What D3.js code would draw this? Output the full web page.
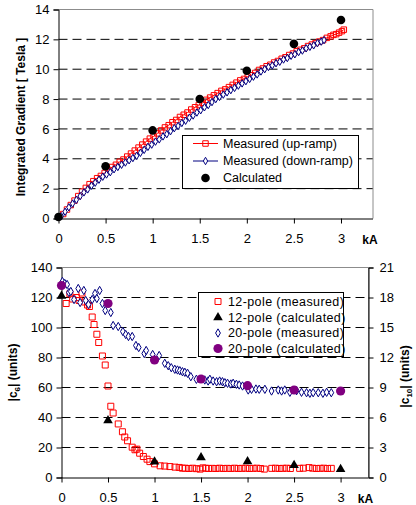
<!DOCTYPE html>
<html>
<head>
<meta charset="utf-8">
<script src="https://cdn.jsdelivr.net/npm/d3@7"></script>
<style>
  body { margin: 0; background: #fff; }
  svg { display: block; font-family: "Liberation Sans", Arial, sans-serif; }
  .tick text { font-size: 13px; fill: #000; }
  .grid line { stroke: #000; stroke-dasharray: 9,5; stroke-width: 1; }
  .legend text { font-size: 12.5px; fill: #000; }
</style>
</head>
<body>
<div id="chart"></div>
<script>
// ---- top chart: integrated gradient vs current ----
const gradXTicks = [0, 0.5, 1, 1.5, 2, 2.5, 3];
const gradYTicks = [0, 2, 4, 6, 8, 10, 12, 14];
const upRampKA = [0.05,0.09,0.13,0.17,0.21,0.25,0.29,0.33,0.37,0.41,0.45,0.49,0.53,0.57,0.61,0.65,0.69,0.73,0.77,0.81,0.85,0.89,0.93,0.97,1.01,1.05,1.09,1.13,1.17,1.21,1.25,1.29,1.33,1.37,1.41,1.45,1.49,1.53,1.57,1.61,1.65,1.69,1.73,1.77,1.81,1.85,1.89,1.93,1.97,2.01,2.05,2.09,2.13,2.17,2.21,2.25,2.29,2.33,2.37,2.41,2.45,2.49,2.53,2.57,2.61,2.65,2.69,2.73,2.77,2.81,2.85,2.89,2.92,2.95,2.98,3.01,3.03];
const upRampT = [0.3,0.6,0.9,1.2,1.5,1.8,2.05,2.3,2.5,2.7,2.85,3.05,3.25,3.45,3.6,3.8,3.95,4.15,4.35,4.55,4.75,4.95,5.15,5.35,5.5,5.7,5.9,6.1,6.25,6.45,6.6,6.8,6.95,7.1,7.3,7.45,7.6,7.75,7.95,8.1,8.25,8.4,8.55,8.65,8.8,8.95,9.1,9.25,9.35,9.5,9.6,9.75,9.95,10.05,10.2,10.3,10.45,10.55,10.7,10.8,10.95,11.05,11.2,11.3,11.4,11.55,11.65,11.75,11.85,11.95,12.1,12.2,12.3,12.35,12.45,12.55,12.65];
const downRampKA = [0.03,0.07,0.11,0.15,0.19,0.23,0.27,0.31,0.35,0.39,0.43,0.47,0.51,0.55,0.59,0.63,0.67,0.71,0.75,0.79,0.83,0.87,0.91,0.95,0.99,1.03,1.07,1.11,1.15,1.19,1.23,1.27,1.31,1.35,1.39,1.43,1.47,1.51,1.55,1.59,1.63,1.67,1.71,1.75,1.79,1.83,1.87,1.91,1.95,1.99,2.03,2.07,2.11,2.15,2.19,2.23,2.27,2.31,2.35,2.39,2.43,2.47,2.51,2.55,2.59,2.63,2.67,2.71,2.75,2.79,2.82];
const downRampT = [0.15,0.45,0.75,1.0,1.25,1.5,1.75,1.95,2.2,2.4,2.6,2.8,2.95,3.1,3.3,3.45,3.6,3.75,3.9,4.05,4.2,4.4,4.6,4.8,4.95,5.15,5.3,5.5,5.65,5.85,6.05,6.2,6.4,6.55,6.75,6.9,7.1,7.25,7.45,7.6,7.8,8.0,8.15,8.3,8.45,8.6,8.75,8.9,9.05,9.2,9.35,9.5,9.65,9.85,10.0,10.15,10.25,10.4,10.5,10.65,10.75,10.9,11.0,11.15,11.25,11.4,11.5,11.6,11.75,11.85,11.95];
const calcKA = [0, 0.5, 1, 1.5, 2, 2.5, 3];
const calcT = [0.1, 3.5, 5.9, 8.0, 9.9, 11.7, 13.3];

// ---- bottom chart: 12-pole and 20-pole harmonics ----
const harmXTicks = [0, 0.5, 1, 1.5, 2, 2.5, 3];
const c6Ticks = [0, 20, 40, 60, 80, 100, 120, 140];
const c10Ticks = [0, 3, 6, 9, 12, 15, 18, 21];
const pole12KA = [0.05,0.09,0.12,0.16,0.19,0.22,0.25,0.28,0.30,0.33,0.35,0.38,0.40,0.44,0.47,0.50,0.53,0.555,0.61,0.655,0.68,0.71,0.76,0.79,0.81,0.84,0.88,0.92,0.95,1.0,1.06,1.11,1.165,1.22,1.265,1.30,1.33,1.37,1.41,1.45,1.49,1.52,1.55,1.58,1.62,1.66,1.70,1.74,1.78,1.82,1.86,1.90,1.94,1.98,2.02,2.06,2.10,2.14,2.18,2.26,2.30,2.34,2.38,2.42,2.46,2.56,2.60,2.66,2.70,2.74,2.78,2.82,2.86,2.90];
const pole12C6 = [116,122.5,119,120,118,123,117,115,114,107,102,95.5,90,81,75,61,47.5,43,35.7,30.5,27,24.5,20.2,18.5,18.9,16.2,14,12.2,10.6,9.1,7.8,7.6,7.3,6.9,6.7,6.2,6.2,6.0,6.2,5.9,5.6,6.4,6.2,6.0,6.1,6.0,6.2,6.0,6.1,6.0,6.2,6.0,6.1,6.2,6.0,6.1,6.2,6.0,5.6,6.1,6.2,6.0,6.1,6.2,6.0,6.1,6.2,6.6,6.2,6.0,6.1,6.2,6.0,6.1];
const pole12CalcKA = [0, 0.5, 1, 1.5, 2, 2.5, 3];
const pole12CalcC6 = [121, 38, 10.5, 13.3, 10.7, 8.2, 5.5];
const pole20KA = [0.01,0.035,0.06,0.08,0.10,0.135,0.18,0.20,0.24,0.26,0.29,0.33,0.36,0.38,0.41,0.44,0.47,0.53,0.555,0.61,0.66,0.69,0.72,0.76,0.80,0.83,0.89,0.91,0.98,1.05,1.11,1.147,1.18,1.218,1.247,1.272,1.30,1.326,1.355,1.39,1.45,1.54,1.576,1.595,1.63,1.667,1.70,1.73,1.756,1.785,1.82,1.845,1.88,1.91,1.946,2.007,2.043,2.09,2.125,2.186,2.258,2.33,2.366,2.40,2.455,2.527,2.58,2.634,2.67,2.705,2.76,2.81,2.85,2.90];
const pole20C10 = [19.6,19.4,19.3,18.5,18.6,17.8,18.9,17.5,18.7,17.7,17.3,17.8,18.4,17.9,18.7,17.4,16.7,16.5,15.2,15.1,14.6,14.3,14.1,14.1,13.2,13.0,12.4,12.7,12.3,12.2,11.42,11.18,10.98,10.82,10.75,10.68,10.58,10.52,10.42,10.08,9.82,9.75,9.65,9.82,9.65,9.58,9.65,9.58,9.48,9.42,9.35,9.42,9.32,9.25,9.15,8.75,8.82,8.85,8.82,8.82,8.65,8.75,8.65,8.75,8.52,8.68,8.52,8.48,8.42,8.48,8.48,8.42,8.52,8.48];
const pole20CalcKA = [0, 0.5, 1, 1.5, 2, 2.5, 3];
const pole20CalcC10 = [19.2, 17.4, 11.75, 9.85, 9.18, 8.75, 8.65];

const red = "#ff0000", navy = "#000080", purple = "#800080";

const svg = d3.select("#chart").append("svg").attr("width", 416).attr("height", 505);

// marker helpers
const square = d3.symbol().type(d3.symbolSquare);
const diamond = d3.symbol().type(d3.symbolDiamond);
const triangle = d3.symbol().type(d3.symbolTriangle);

const drawFrame = (g, x, y, box, xTicks, yTicks, yFmt) => {
  // dashed grid
  g.append("g")
    .attr("class", "grid")
    .selectAll("line")
    .data(yTicks.slice(1, -1))
    .join("line")
    .attr("x1", box.left)
    .attr("x2", box.right)
    .attr("y1", d => y(d))
    .attr("y2", d => y(d));
  // grey plot border (top, right)
  g.append("path")
    .attr("d", `M${box.left},${box.top}H${box.right}V${box.bottom}`)
    .attr("fill", "none")
    .attr("stroke", "#8c8c8c");

  const xAxis = g.append("g")
    .attr("transform", `translate(0,${box.bottom})`)
    .call(d3.axisBottom(x).tickValues(xTicks).tickSize(5).tickPadding(8).tickFormat(d3.format("")));
  xAxis.select(".domain").attr("d", `M${box.left},0.5H${box.right}`);
  const yAxis = g.append("g")
    .attr("transform", `translate(${box.left},0)`)
    .call(d3.axisLeft(y).tickValues(yTicks).tickSize(5).tickPadding(4).tickFormat(yFmt));
  [xAxis, yAxis].forEach(a => a.selectAll("path, line").attr("stroke", "#000"));
  xAxis.selectAll("text").attr("dy", "0.85em");
  g.append("text")
    .attr("x", box.right - 3)
    .attr("y", box.bottom + 25)
    .attr("text-anchor", "middle")
    .attr("font-weight", "bold")
    .attr("font-size", 12)
    .text("kA");
};

// ================= top chart =================
const topBox = { left: 58.5, right: 373, top: 9.5, bottom: 218.5 };
const gx = d3.scaleLinear().domain([0, 3.34]).range([topBox.left, topBox.right]);
const gy = d3.scaleLinear().domain([0, 14]).range([topBox.bottom, topBox.top]);
const topG = svg.append("g");
drawFrame(topG, gx, gy, topBox, gradXTicks, gradYTicks, d3.format(""));

topG.append("text")
  .attr("transform", `translate(25,${(topBox.top + topBox.bottom) / 2 + 3}) rotate(-90)`)
  .attr("text-anchor", "middle")
  .attr("font-weight", "bold")
  .attr("font-size", 12)
  .text("Integrated Gradient [ Tesla ]");

const upRamp = upRampKA.map((k, i) => [k, upRampT[i]]);
const downRamp = downRampKA.map((k, i) => [k, downRampT[i]]);
const gLine = d3.line().x(d => gx(d[0])).y(d => gy(d[1]));

topG.append("path").datum(upRamp).attr("d", gLine).attr("fill", "none").attr("stroke", red).attr("stroke-width", 1);
topG.append("path").datum(downRamp).attr("d", gLine).attr("fill", "none").attr("stroke", navy).attr("stroke-width", 1);

topG.append("g").selectAll("path")
  .data(upRamp)
  .join("path")
  .attr("transform", d => `translate(${gx(d[0])},${gy(d[1])})`)
  .attr("d", square.size(30))
  .attr("fill", "none")
  .attr("stroke", red)
  .attr("stroke-width", 1);
topG.append("g").selectAll("path")
  .data(downRamp)
  .join("path")
  .attr("transform", d => `translate(${gx(d[0])},${gy(d[1])})`)
  .attr("d", diamond.size(16))
  .attr("fill", "#fff")
  .attr("stroke", navy)
  .attr("stroke-width", 1);
topG.append("g").selectAll("circle")
  .data(calcKA.map((k, i) => [k, calcT[i]]))
  .join("circle")
  .attr("cx", d => gx(d[0]))
  .attr("cy", d => gy(d[1]))
  .attr("r", 4.3)
  .attr("fill", "#000");

// top legend
const tl = topG.append("g").attr("class", "legend");
tl.append("rect").attr("x", 182.5).attr("y", 135.5).attr("width", 176).attr("height", 53)
  .attr("fill", "#fff").attr("stroke", "#000");
const topLegend = [
  { label: "Measured (up-ramp)", y: 143.5, kind: "up" },
  { label: "Measured (down-ramp)", y: 161, kind: "down" },
  { label: "Calculated", y: 178, kind: "calc" }
];
topLegend.forEach(it => {
  if (it.kind === "up" || it.kind === "down") {
    const c = it.kind === "up" ? red : navy;
    tl.append("line").attr("x1", 193).attr("x2", 218).attr("y1", it.y).attr("y2", it.y).attr("stroke", c);
    tl.append("path")
      .attr("transform", `translate(205.5,${it.y})`)
      .attr("d", it.kind === "up" ? square.size(30)() : diamond.size(16)())
      .attr("fill", it.kind === "up" ? "none" : "#fff")
      .attr("stroke", c);
  } else {
    tl.append("circle").attr("cx", 205.5).attr("cy", it.y).attr("r", 4.3).attr("fill", "#000");
  }
  tl.append("text").attr("x", 223).attr("y", it.y).attr("dy", "0.35em").text(it.label);
});

// ================= bottom chart =================
const botBox = { left: 61.5, right: 368.5, top: 267.5, bottom: 477.5 };
const hx = d3.scaleLinear().domain([0, 3.3]).range([botBox.left, botBox.right]);
const hy = d3.scaleLinear().domain([0, 140]).range([botBox.bottom, botBox.top]);
const hyR = d3.scaleLinear().domain([0, 21]).range([botBox.bottom, botBox.top]);
const botG = svg.append("g");
drawFrame(botG, hx, hy, botBox, harmXTicks, c6Ticks, d3.format(""));

const rAxis = botG.append("g")
  .attr("transform", `translate(${botBox.right},0)`)
  .call(d3.axisRight(hyR).tickValues(c10Ticks).tickSize(5).tickPadding(6));
rAxis.selectAll("path, line").attr("stroke", "#000");

const leftTitle = botG.append("text")
  .attr("transform", `translate(17,${(botBox.top + botBox.bottom) / 2}) rotate(-90)`)
  .attr("text-anchor", "middle")
  .attr("font-weight", "bold")
  .attr("font-size", 12);
leftTitle.append("tspan").text("|c");
leftTitle.append("tspan").attr("font-size", 8).attr("dy", 3).text("6");
leftTitle.append("tspan").attr("dy", -3).text("| (units)");

const rightTitle = botG.append("text")
  .attr("transform", `translate(409,${(botBox.top + botBox.bottom) / 2 + 4}) rotate(-90)`)
  .attr("text-anchor", "middle")
  .attr("font-weight", "bold")
  .attr("font-size", 12);
rightTitle.append("tspan").text("|c");
rightTitle.append("tspan").attr("font-size", 8).attr("dy", 3).text("10");
rightTitle.append("tspan").attr("dy", -3).text("| (units)");

botG.append("g").selectAll("path")
  .data(pole12KA.map((k, i) => [k, pole12C6[i]]))
  .join("path")
  .attr("transform", d => `translate(${hx(d[0])},${hy(d[1])})`)
  .attr("d", square.size(36))
  .attr("fill", "none")
  .attr("stroke", red)
  .attr("stroke-width", 1);
botG.append("g").selectAll("path")
  .data(pole20KA.map((k, i) => [k, pole20C10[i]]))
  .join("path")
  .attr("transform", d => `translate(${hx(d[0])},${hyR(d[1])})`)
  .attr("d", diamond.size(20))
  .attr("fill", "#fff")
  .attr("stroke", navy)
  .attr("stroke-width", 1);
botG.append("g").selectAll("path")
  .data(pole12CalcKA.map((k, i) => [k, pole12CalcC6[i]]))
  .join("path")
  .attr("transform", d => `translate(${hx(d[0])},${hy(d[1])})`)
  .attr("d", triangle.size(40))
  .attr("fill", "#000");
botG.append("g").selectAll("circle")
  .data(pole20CalcKA.map((k, i) => [k, pole20CalcC10[i]]))
  .join("circle")
  .attr("cx", d => hx(d[0]))
  .attr("cy", d => hyR(d[1]))
  .attr("r", 4.6)
  .attr("fill", purple);

// bottom legend
const bl = botG.append("g").attr("class", "legend");
bl.append("rect").attr("x", 198.5).attr("y", 292.5).attr("width", 145).attr("height", 64)
  .attr("fill", "#fff").attr("stroke", "#000");
const botLegend = [
  { label: "12-pole (measured)", y: 301.5 },
  { label: "12-pole (calculated)", y: 317.5 },
  { label: "20-pole (measured)", y: 333 },
  { label: "20-pole (calculated)", y: 348.5 }
];
botLegend.forEach((it, i) => {
  const m = bl.append("g").attr("transform", `translate(218,${it.y})`);
  if (i === 0) m.append("path").attr("d", square.size(36)()).attr("fill", "none").attr("stroke", red);
  if (i === 1) m.append("path").attr("d", triangle.size(40)()).attr("fill", "#000");
  if (i === 2) m.append("path").attr("d", diamond.size(20)()).attr("fill", "#fff").attr("stroke", navy);
  if (i === 3) m.append("circle").attr("r", 4.6).attr("fill", purple);
  bl.append("text").attr("x", 228).attr("y", it.y).attr("dy", "0.35em")
    .attr("font-size", 12).attr("letter-spacing", 0.4).text(it.label);
});
</script>
</body>
</html>
